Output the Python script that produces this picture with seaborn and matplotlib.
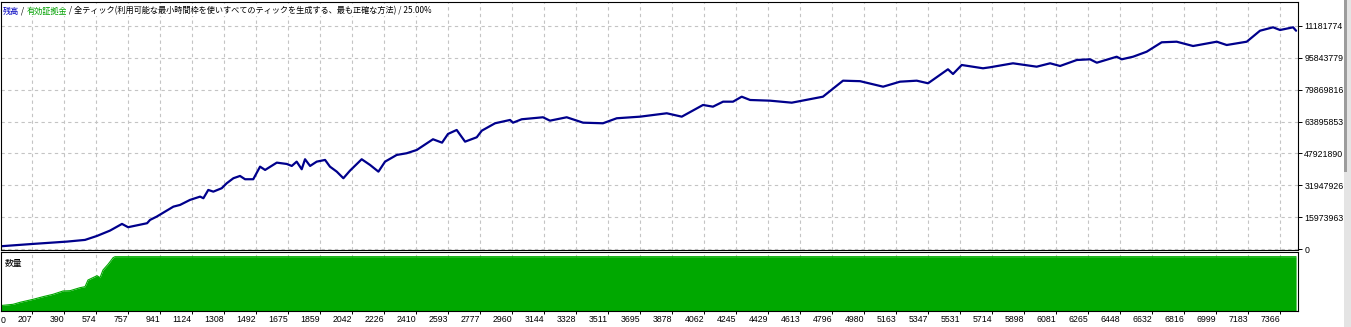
import numpy as np
import pandas as pd
import matplotlib
matplotlib.use("Agg")
import matplotlib.pyplot as plt
import seaborn as sns
from matplotlib.patches import Rectangle

# ---------------- data ----------------
trade_no = [0, 213, 408, 511, 580, 654, 723, 758, 867, 884, 922, 970, 1018, 1056,
            1113, 1171, 1190, 1218, 1247, 1295, 1324, 1362, 1400, 1429, 1476, 1515,
            1544, 1611, 1668, 1697, 1725, 1754, 1773, 1802, 1840, 1888, 1916, 1955,
            1993, 2031, 2098, 2146, 2194, 2232, 2299, 2356, 2414, 2507, 2559, 2593,
            2643, 2691, 2758, 2787, 2863, 2949, 2966, 3016, 3138, 3178, 3274, 3368,
            3482, 3561, 3695, 3848, 3934, 4056, 4113, 4171, 4228, 4278, 4326, 4441,
            4565, 4744, 4859, 4957, 5089, 5186, 5282, 5347, 5461, 5490, 5540, 5662,
            5702, 5834, 5970, 6047, 6104, 6200, 6276, 6315, 6429, 6458, 6523, 6601,
            6687, 6773, 6867, 7003, 7060, 7175, 7251, 7326, 7366, 7441, 7458]
equity_m = [1.25, 2.60, 3.76, 4.61, 6.61, 9.26, 12.62, 10.97, 12.97, 14.62, 16.27,
            18.78, 21.28, 22.13, 24.64, 26.29, 25.49, 29.64, 28.79, 30.50, 33.00,
            35.50, 36.65, 35.00, 35.00, 41.31, 39.66, 43.32, 42.66, 41.66, 43.82,
            40.01, 45.02, 41.66, 43.82, 44.67, 41.31, 38.81, 35.50, 39.31, 45.02,
            42.16, 38.81, 43.82, 47.17, 48.02, 49.67, 55.03, 53.33, 57.69, 59.69,
            53.83, 56.03, 59.34, 63.04, 64.70, 63.34, 65.05, 66.05, 64.35, 66.05,
            63.34, 63.04, 65.55, 66.35, 68.05, 66.35, 72.21, 71.36, 73.86, 73.86,
            76.36, 74.71, 74.36, 73.36, 76.36, 84.38, 84.13, 81.37, 83.88, 84.38,
            83.08, 90.09, 87.73, 92.24, 90.59, 91.09, 93.09, 91.39, 93.09, 91.74,
            94.74, 95.09, 93.39, 96.39, 95.09, 96.39, 98.90, 103.61, 103.91, 101.75,
            103.91, 102.25, 103.91, 109.41, 111.12, 109.77, 111.12, 109.41]

vol_trade = [0, 98, 138, 213, 270, 327, 385, 425, 482, 511, 528, 580, 597, 614,
             643, 672, 683, 7458]
vol_pct = [6.3, 9.5, 13.3, 19.0, 24.0, 28.5, 34.8, 35.4, 41.1, 43.0, 55.7, 63.9,
           60.1, 74.7, 85.5, 98.1, 100.0, 100.0]

x_ticks = [207, 390, 574, 757, 941, 1124, 1308, 1492, 1675, 1859, 2042, 2226,
           2410, 2593, 2777, 2960, 3144, 3328, 3511, 3695, 3878, 4062, 4245, 4429,
           4613, 4796, 4980, 5163, 5347, 5531, 5714, 5898, 6081, 6265, 6448, 6632,
           6816, 6999, 7183, 7366]
x_first_label = "0"
y_ticks = [0, 15973963, 31947926, 47921890, 63895853, 79869816, 95843779, 111817742]
y_tick_labels = ["0", "15973963", "31947926", "47921890", "63895853", "79869816",
                 "95843779", "11181774"]

header_parts = ["残高", " / ", "有効証拠金",
                " / 全ティック(利用可能な最小時間枠を使いすべてのティックを生成する、最も正確な方法) / 25.00%"]
header_colors = ["#0000C0", "#000000", "#00A000", "#000000"]
volume_label = "数量"

# ---------------- style ----------------
sns.set_theme(style="white")
plt.rcParams["font.family"] = ["Liberation Sans", "Noto Sans CJK JP", "DejaVu Sans"]
cjk = ["Noto Sans CJK JP", "DejaVu Sans"]

W, H = 1351, 327
fig = plt.figure(figsize=(W / 100, H / 100), dpi=100)
fig.patch.set_facecolor("white")


def px(l, t, r, b):
    return [l / W, 1 - b / H, (r - l) / W, (b - t) / H]


ax1 = fig.add_axes(px(1, 2, 1298, 249.5))
ax2 = fig.add_axes(px(1, 252, 1298, 311))

line_col = "#00008C"
green = "#00A800"
grid_kw = dict(color="#c4c4c4", linestyle=(0, (3, 3)), linewidth=0.8)
tick_fs = 6.3

# equity curve
eq_df = pd.DataFrame({"trade": trade_no, "equity": np.array(equity_m) * 1e6})
sns.lineplot(data=eq_df, x="trade", y="equity", ax=ax1, color=line_col,
             linewidth=1.6, estimator=None, sort=False)
ax1.set_xlim(29, 7469)
ax1.set_ylim(-0.2e6, 123.8e6)
ax1.set_xlabel("")
ax1.set_ylabel("")
ax1.set_xticks(x_ticks)
ax1.tick_params(axis="x", bottom=False, labelbottom=False)
ax1.yaxis.tick_right()
ax1.set_yticks(y_ticks, y_tick_labels)
ax1.tick_params(axis="y", right=True, direction="out", length=3, width=0.7,
                pad=1.5, labelsize=tick_fs, colors="black")
ax1.grid(True, **grid_kw)
ax1.set_axisbelow(True)

# volume panel
vol_df = pd.DataFrame({"trade": vol_trade, "vol": vol_pct})
sns.lineplot(data=vol_df, x="trade", y="vol", ax=ax2, color=green,
             linewidth=0.8, estimator=None, sort=False)
ax2.fill_between(vol_df["trade"], vol_df["vol"], -5, color=green, linewidth=0)
ax2.set_xlim(29, 7469)
ax2.set_ylim(-3.2, 108.9)
ax2.set_xlabel("")
ax2.set_ylabel("")
ax2.set_yticks([])
ax2.set_xticks(x_ticks, [str(v) for v in x_ticks], ha="right")
ax2.tick_params(axis="x", bottom=True, direction="out", length=2, width=0.7,
                pad=1, labelsize=tick_fs, colors="black")
ax2.xaxis.grid(True, **grid_kw)
ax2.yaxis.grid(False)
ax2.set_axisbelow(True)
ax2.text(0.0, -0.085, x_first_label, transform=ax2.transAxes, ha="left", va="top",
         fontsize=tick_fs, color="black")
ax2.text(4 / 1297, 0.80, volume_label, transform=ax2.transAxes, ha="left",
         va="center", fontsize=6.3, family=cjk, color="black")

for ax in (ax1, ax2):
    for s in ax.spines.values():
        s.set_color("black")
        s.set_linewidth(0.8)
        s.set_visible(True)

# header (sequential coloured pieces)
renderer = fig.canvas.get_renderer()
xpos = 3 / W
for part, col in zip(header_parts, header_colors):
    t = fig.text(xpos, 1 - 11 / H, part, color=col, fontsize=5.9, family=cjk,
                 va="center", ha="left",
                 bbox=dict(facecolor="white", edgecolor="none", pad=0.3))
    bb = t.get_window_extent(renderer=renderer)
    xpos = bb.x1 / W

# window chrome on the right edge
fig.patches.append(Rectangle((1344 / W, 0), 7 / W, 1, transform=fig.transFigure,
                             facecolor="#e4e4e4", edgecolor="none"))
fig.patches.append(Rectangle((1344 / W, 1 - 172 / H), 2.5 / W, 172 / H,
                             transform=fig.transFigure, facecolor="#9c9c9c",
                             edgecolor="none"))

fig.savefig("out.png", dpi=100)
